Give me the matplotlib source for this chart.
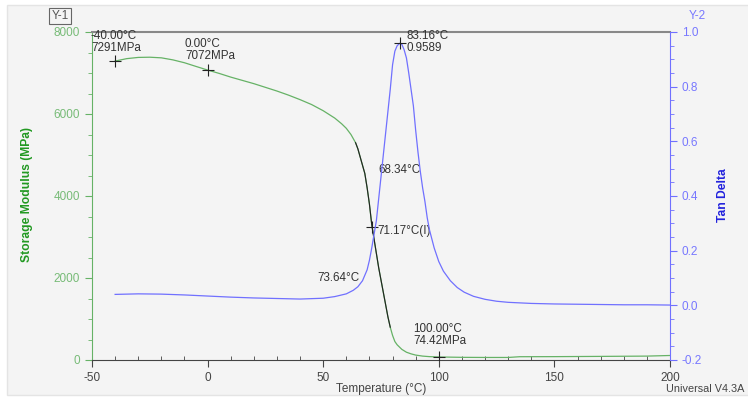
import numpy as np
import matplotlib
matplotlib.use('Agg')
import matplotlib.pyplot as plt
from matplotlib.patches import Rectangle
from matplotlib.ticker import MultipleLocator

plt.rcParams['font.family'] = ['Liberation Sans', 'DejaVu Sans']
plt.rcParams['axes.unicode_minus'] = False

# Storage modulus (MPa) vs temperature
temp_sm = [-40, -35, -30, -25, -20, -15, -10, -5, 0, 5, 10, 15, 20, 25, 30, 35, 40,
           45, 50, 55, 58, 60, 62, 64, 65, 66, 67, 68, 69, 70, 71, 72, 73, 74, 75,
           76, 77, 78, 79, 80, 81, 82, 84, 86, 88, 90, 93, 96, 100, 110, 120, 130,
           135, 150, 170, 190, 200]
storage = [7291, 7350, 7380, 7385, 7370, 7320, 7250, 7160, 7072, 6990, 6900, 6820,
           6740, 6650, 6560, 6460, 6350, 6230, 6080, 5900, 5760, 5650, 5500, 5300,
           5150, 4950, 4750, 4550, 4200, 3800, 3300, 2950, 2600, 2250, 1950, 1650,
           1350, 1050, 800, 600, 450, 370, 260, 190, 150, 120, 95, 82, 74, 65, 62,
           62, 80, 82, 88, 95, 110]

# Tan delta vs temperature
temp_td = [-40, -30, -20, -10, 0, 10, 20, 30, 40, 50, 55, 60, 63, 65, 67, 68, 69,
           70, 71, 72, 73, 74, 75, 76, 77, 78, 79, 80, 81, 82, 83.16, 84, 85, 86,
           87, 88, 89, 90, 91, 92, 93, 94, 95, 96, 98, 100, 102, 105, 108, 111,
           115, 120, 125, 130, 140, 150, 160, 170, 180, 190, 200]
tan_delta = [0.040, 0.042, 0.041, 0.038, 0.034, 0.030, 0.027, 0.025, 0.023, 0.026,
             0.032, 0.042, 0.055, 0.068, 0.090, 0.110, 0.130, 0.165, 0.210, 0.260,
             0.310, 0.390, 0.470, 0.550, 0.630, 0.710, 0.790, 0.880, 0.930, 0.950,
             0.9589, 0.955, 0.935, 0.905, 0.850, 0.790, 0.730, 0.640, 0.560, 0.490,
             0.430, 0.380, 0.320, 0.275, 0.210, 0.160, 0.125, 0.090, 0.065, 0.048,
             0.033, 0.022, 0.015, 0.011, 0.007, 0.005, 0.004, 0.003, 0.002, 0.002,
             0.001]

# marked points
sm_marks_t = [-40, 0, 71.17, 100]
sm_marks_v = [7291, 7072, 3244, 74.42]
td_mark_t = [83.16]
td_mark_v = [0.9589]

green = '#66b266'
blue = '#7070ff'
txt = '#444444'

fig = plt.figure(figsize=(7.48, 4.0), dpi=100, facecolor='white')
fig.patches.append(Rectangle((7/748, 5/400), 1, 390/400, transform=fig.transFigure,
                             facecolor='#f4f4f4', edgecolor='#e4e4e4', lw=1, zorder=-10))

ax = fig.add_axes([92/748, 40/400, 578/748, 328/400])
ax.set_facecolor('#f4f4f4')
ax2 = ax.twinx()

ax.plot(temp_sm, storage, color=green, lw=0.9, zorder=3)
# steep region highlighted in black
t_arr = np.array(temp_sm)
s_arr = np.array(storage)
sel = (t_arr >= 64) & (t_arr <= 79)
ax.plot(t_arr[sel], s_arr[sel], color='#222222', lw=0.8, zorder=4)
ax.plot(sm_marks_t, sm_marks_v, '+', color='#222222', ms=9, mew=0.8, zorder=5)

ax2.plot(temp_td, tan_delta, color=blue, lw=0.9, zorder=3)
ax2.plot(td_mark_t, td_mark_v, '+', color='#222222', ms=9, mew=0.8, zorder=5)

ax.set_xlim(-50, 200)
ax.set_ylim(0, 8000)
ax2.set_ylim(-0.2, 1.0)

ax.xaxis.set_major_locator(MultipleLocator(50))
ax.xaxis.set_minor_locator(MultipleLocator(10))
ax.yaxis.set_major_locator(MultipleLocator(2000))
ax.yaxis.set_minor_locator(MultipleLocator(500))
ax2.yaxis.set_major_locator(MultipleLocator(0.2))
ax2.yaxis.set_minor_locator(MultipleLocator(0.05))
ax2.yaxis.set_major_formatter(matplotlib.ticker.FormatStrFormatter('%.1f'))

ax.tick_params(axis='x', which='major', direction='out', length=5, colors='#444444',
               labelsize=8.5, labelcolor=txt)
ax.tick_params(axis='x', which='minor', direction='in', length=3, colors='#444444')
ax.tick_params(axis='y', which='both', direction='out', colors=green, labelsize=8.5,
               labelcolor='#77bb77')
ax.tick_params(axis='y', which='major', length=5)
ax.tick_params(axis='y', which='minor', length=3)
ax2.tick_params(axis='y', which='both', direction='out', colors=blue, labelsize=8.5,
                labelcolor='#7777ff')
ax2.tick_params(axis='y', which='major', length=5)
ax2.tick_params(axis='y', which='minor', length=3)

ax.spines['left'].set_color(green)
ax.spines['bottom'].set_color('#444444')
ax.spines['top'].set_color('#888888')
ax.spines['top'].set_linewidth(1.5)
ax.spines['right'].set_visible(False)
ax2.spines['right'].set_color(blue)
for s in ['left', 'top', 'bottom']:
    ax2.spines[s].set_visible(False)

# annotations
fs = 8.4
ax.text(-50.5, 8060, '-40.00°C\n7291MPa', fontsize=fs, color='#333333', va='top',
        ha='left', linespacing=1.0, zorder=6)
ax.text(-9.8, 7860, '0.00°C\n7072MPa', fontsize=fs, color='#333333', va='top',
        ha='left', linespacing=1.0, zorder=6)
ax2.text(86.2, 1.008, '83.16°C\n0.9589', fontsize=fs, color='#333333', va='top',
         ha='left', linespacing=1.0, zorder=6)
ax.text(73.7, 4641, '68.34°C', fontsize=fs, color='#333333', va='center', ha='left', zorder=6)
ax.text(73.3, 3154, '71.17°C(I)', fontsize=fs, color='#333333', va='center', ha='left', zorder=6)
ax.text(47.3, 2007, '73.64°C', fontsize=fs, color='#333333', va='center', ha='left', zorder=6)
ax.text(88.8, 910, '100.00°C\n74.42MPa', fontsize=fs, color='#333333', va='top',
        ha='left', linespacing=1.0, zorder=6)

fig.text(60/748, 1 - 16/400, 'Y-1', fontsize=8.5, color='#555555', ha='center', va='center',
         bbox=dict(boxstyle='square,pad=0.2', facecolor='none', edgecolor='#666666', lw=0.8))
fig.text(697/748, 1 - 16/400, 'Y-2', fontsize=8.5, color='#7777ff', ha='center', va='center')
fig.text(27/748, 1 - 195/400, 'Storage Modulus (MPa)', fontsize=8.7, color='#229922',
         fontweight='bold', rotation=90, ha='center', va='center')
fig.text(723/748, 1 - 195/400, 'Tan Delta', fontsize=8.7, color='#2222dd',
         fontweight='bold', rotation=90, ha='center', va='center')
fig.text(381/748, 1 - 389/400, 'Temperature (°C)', fontsize=8.5, color=txt,
         ha='center', va='center')
fig.text(666/748, 1 - 389/400, 'Universal V4.3A', fontsize=7.8, color=txt,
         ha='left', va='center')

plt.savefig('out.png', dpi=100, facecolor=fig.get_facecolor())
